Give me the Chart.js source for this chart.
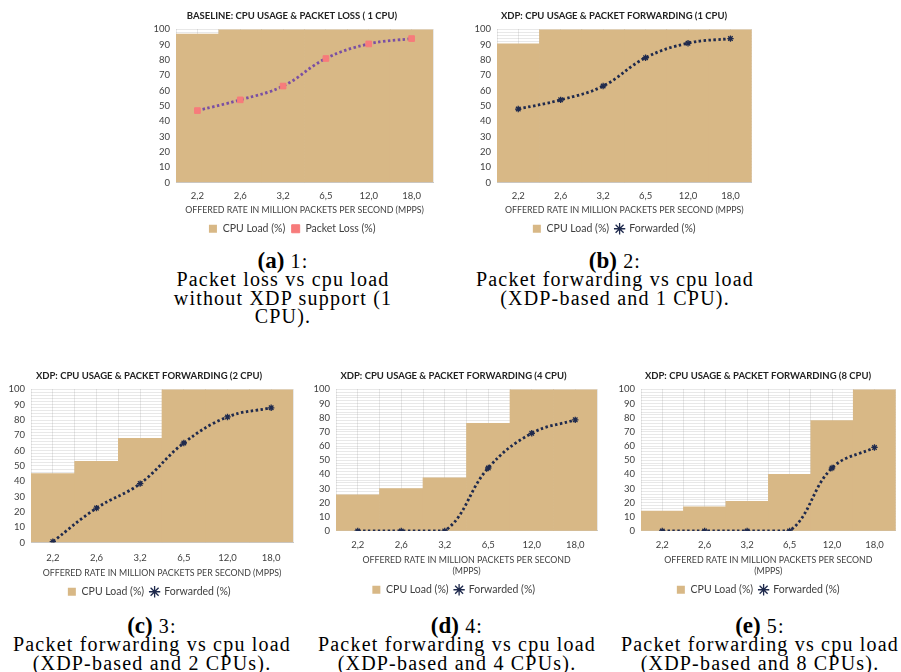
<!DOCTYPE html>
<html>
<head>
<meta charset="utf-8">
<script src="https://cdn.jsdelivr.net/npm/chart.js@4.4.0/dist/chart.umd.min.js"></script>
<style>
  body { margin: 0; background: #fff; width: 901px; height: 672px; position: relative; overflow: hidden; }
  .box { position: absolute; }
  .cap { position: absolute; text-align: center; font-family: "Liberation Serif", serif; font-size: 20px; letter-spacing: 1.2px; line-height: 18.3px; color: #000; white-space: nowrap; }
  .cap b { font-size: 23px; letter-spacing: 0; }
</style>
</head>
<body>
<div class="box" style="left:128px;top:0px;width:310px;height:244px"><canvas id="chartA"></canvas></div>
<div class="box" style="left:471px;top:0px;width:286px;height:244px"><canvas id="chartB"></canvas></div>
<div class="box" style="left:0px;top:360px;width:304px;height:247px"><canvas id="chartC"></canvas></div>
<div class="box" style="left:310px;top:360px;width:294px;height:245px"><canvas id="chartD"></canvas></div>
<div class="box" style="left:612px;top:360px;width:289px;height:245px"><canvas id="chartE"></canvas></div>

<div class="cap" style="left:133px;top:252px;width:300px"><b>(a)</b> 1:<br>Packet loss vs cpu load<br>without XDP support (1<br>CPU).</div>
<div class="cap" style="left:465px;top:252px;width:300px"><b>(b)</b> 2:<br>Packet forwarding vs cpu load<br>(XDP-based and 1 CPU).</div>
<div class="cap" style="left:2px;top:617px;width:300px"><b>(c)</b> 3:<br>Packet forwarding vs cpu load<br>(XDP-based and 2 CPUs).</div>
<div class="cap" style="left:307px;top:617px;width:300px"><b>(d)</b> 4:<br>Packet forwarding vs cpu load<br>(XDP-based and 4 CPUs).</div>
<div class="cap" style="left:610px;top:617px;width:300px"><b>(e)</b> 5:<br>Packet forwarding vs cpu load<br>(XDP-based and 8 CPUs).</div>

<script>
const categories = ['2,2', '2,6', '3,2', '6,5', '12,0', '18,0'];

const cpuBaseline = [97, 100, 100, 100, 100, 100];
const lossBaseline = [47, 54, 63, 81, 90.5, 94];

const cpu1 = [90.5, 100, 100, 100, 100, 100];
const fwd1 = [48, 54, 63, 81.5, 91, 94];

const cpu2 = [45, 53, 68, 100, 100, 100];
const fwd2 = [0.6, 22.5, 38.5, 65, 82, 88];

const cpu4 = [25.5, 30, 37.5, 76, 100, 100];
const fwd4 = [0, 0, 0, 44.5, 69, 78.5];

const cpu8 = [14, 17, 21, 40, 78, 100];
const fwd8 = [0, 0, 0, 0, 44.5, 59];

const axisTitle = 'OFFERED RATE IN MILLION PACKETS PER SECOND (MPPS)';
const axisTitleWrapped = ['OFFERED RATE IN MILLION PACKETS PER SECOND', '(MPPS)'];

const tan = '#d8b886';
const gridCol = 'rgba(110, 110, 110, 0.16)';
const textCol = '#404040';
const font = 'Lato, "Open Sans", sans-serif';

function makeChart(id, title, cpu, series, seriesLabel, opts) {
    const baseline = opts.baseline;
    new Chart(document.getElementById(id), {
        data: {
            labels: categories,
            datasets: [
                {
                    type: 'line',
                    label: seriesLabel,
                    data: series,
                    borderColor: baseline ? '#7a4fa3' : '#1f2a4d',
                    borderWidth: 2.8,
                    borderDash: [2.5, 2.5],
                    tension: 0.4,
                    pointStyle: baseline ? 'rect' : 'star',
                    pointRadius: baseline ? 4 : 3.2,
                    pointBackgroundColor: baseline ? '#f77b7b' : '#b8c8e6',
                    pointBorderColor: baseline ? '#f77b7b' : '#1f2a4d',
                    pointBorderWidth: baseline ? 1 : 1.3,
                    order: 0
                },
                {
                    type: 'bar',
                    label: 'CPU Load (%)',
                    data: cpu,
                    backgroundColor: tan,
                    borderWidth: 0,
                    categoryPercentage: 1,
                    barPercentage: 1,
                    pointStyle: 'rect',
                    order: 1
                }
            ]
        },
        options: {
            responsive: true,
            maintainAspectRatio: false,
            animation: false,
            layout: { padding: opts.padding },
            plugins: {
                title: {
                    display: true,
                    text: title,
                    color: '#222',
                    font: { family: font, size: 9.5, weight: 'bold' },
                    padding: { top: 10, bottom: 8 }
                },
                legend: {
                    position: 'bottom',
                    reverse: true,
                    labels: {
                        usePointStyle: true,
                        boxWidth: 9,
                        boxHeight: 8,
                        padding: 6,
                        color: textCol,
                        font: { family: font, size: 10.5 }
                    }
                },
                tooltip: { enabled: false }
            },
            scales: {
                x: {
                    offset: true,
                    grid: { display: false, drawTicks: false },
                    border: { color: '#c8c8c8' },
                    ticks: { color: textCol, font: { family: font, size: 9.5 }, padding: opts.tickPad },
                    title: {
                        display: true,
                        text: opts.wrap ? axisTitleWrapped : axisTitle,
                        color: textCol,
                        font: { family: font, size: 8.8 },
                        padding: { top: opts.titleGap, bottom: 2 }
                    }
                },
                xg: {
                    type: 'linear',
                    min: 0,
                    max: 6,
                    display: true,
                    position: 'top',
                    z: 1,
                    ticks: { display: false, stepSize: 0.5 },
                    grid: { color: gridCol, drawTicks: false },
                    border: { display: false }
                },
                y: {
                    min: 0,
                    max: 100,
                    z: 1,
                    afterFit: (s) => { s.width = opts.yWidth; },
                    ticks: {
                        stepSize: 2,
                        autoSkip: false,
                        color: textCol,
                        font: { family: font, size: 9.5 },
                        padding: 6,
                        callback: (v) => (v % 10 === 0 ? v : '')
                    },
                    grid: { color: gridCol, drawTicks: false },
                    border: { display: false }
                }
            }
        }
    });
}

makeChart('chartA', 'BASELINE: CPU USAGE & PACKET LOSS ( 1 CPU)', cpuBaseline, lossBaseline, 'Packet Loss (%)',
    { baseline: true, yWidth: 30, tickPad: 8, titleGap: -5, padding: { left: 18, right: 0 } });
makeChart('chartB', 'XDP: CPU USAGE & PACKET FORWARDING (1 CPU)', cpu1, fwd1, 'Forwarded (%)',
    { yWidth: 26, tickPad: 8, titleGap: -5, padding: { left: 0, right: 0 } });
makeChart('chartC', 'XDP: CPU USAGE & PACKET FORWARDING (2 CPU)', cpu2, fwd2, 'Forwarded (%)',
    { yWidth: 26, tickPad: 10, titleGap: -6, padding: { left: 5, right: 11 } });
makeChart('chartD', 'XDP: CPU USAGE & PACKET FORWARDING (4 CPU)', cpu4, fwd4, 'Forwarded (%)',
    { wrap: true, yWidth: 26, tickPad: 8, titleGap: -3, padding: { left: 0, right: 7 } });
makeChart('chartE', 'XDP: CPU USAGE & PACKET FORWARDING (8 CPU)', cpu8, fwd8, 'Forwarded (%)',
    { wrap: true, yWidth: 26, tickPad: 8, titleGap: -3, padding: { left: 3, right: 0 } });
</script>
</body>
</html>
